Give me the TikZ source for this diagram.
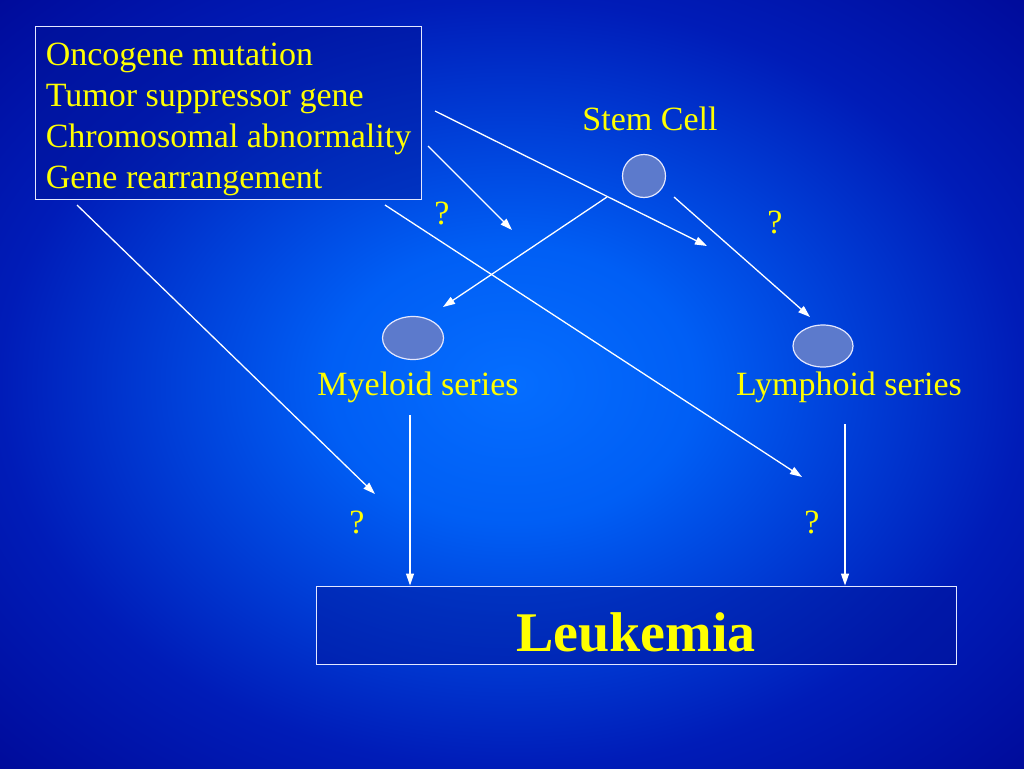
\documentclass[tikz,border=0pt]{standalone}
\usepackage{fontspec}
\setmainfont{Liberation Serif}
\usetikzlibrary{positioning,arrows.meta,shapes.geometric}

\definecolor{txtyellow}{RGB}{255,255,0}
\definecolor{cellfill}{RGB}{92,122,204}
\definecolor{edgewhite}{RGB}{228,232,255}
\definecolor{boxnavy}{RGB}{0,20,150}
\pgfdeclareradialshading{slidebg}{\pgfpoint{0bp}{0bp}}{%
  rgb(0bp)=(0.02,0.43,1); rgb(9bp)=(0,0.37,0.96); rgb(25bp)=(0,0.11,0.72);
  rgb(36bp)=(0,0.04,0.6); rgb(50bp)=(0,0.02,0.52)}

\begin{document}
\begin{tikzpicture}[
  x=1pt, y=-1pt,
  txt/.style={text=txtyellow, font=\fontsize{34}{41}\selectfont, inner sep=0pt},
  causebox/.style={rectangle, draw=edgewhite, line width=1pt, fill=boxnavy, fill opacity=0.45, text opacity=1,
    text=txtyellow, font=\fontsize{34}{41}\selectfont, align=left, inner ysep=0pt,
    minimum width=386pt, minimum height=173pt},
  leukbox/.style={rectangle, draw=edgewhite, line width=1pt, fill=boxnavy, fill opacity=0.45, text opacity=1,
    text=txtyellow, font=\fontsize{56}{60}\selectfont\bfseries, text height=53pt, text depth=0pt,
    minimum width=640pt, minimum height=78pt},
  cell/.style={ellipse, draw=edgewhite, line width=1.2pt, fill=cellfill, inner sep=0pt},
  arrow/.style={-{Triangle[length=12pt,width=8pt]}, draw=white, line width=1.3pt}
  ]
  % background
  \useasboundingbox (0,0) rectangle (1024,768);
  \shade[shading=slidebg] (0,0) rectangle (1024,768);

  % causes and cells
  \node[causebox, anchor=north west] (causes) at (35,26)
    {\rule{0pt}{36pt}Oncogene mutation\\Tumor suppressor gene\\Chromosomal abnormality\\Gene rearrangement};
  \node[cell, minimum width=43pt, minimum height=43pt] (stem) at (644,176) {};
  \node[txt] (stemlbl) at (650,119) {Stem Cell};
  \node[cell, minimum width=61pt, minimum height=43pt] (myeloid) at (413,338) {};
  \node[cell, minimum width=60pt, minimum height=42pt] (lymphoid) at (823,346) {};
  \node[txt] (myelbl) at (418,387) {Myeloid series};
  \node[txt] (lymlbl) at (849,387) {Lymphoid series};
  \node[leukbox] (leuk) at (636,625) {Leukemia};

  % question marks
  \node[txt] (q1) at (442,213) {?};
  \node[txt] (q2) at (775,222) {?};
  \node[txt] (q3) at (357,522) {?};
  \node[txt] (q4) at (812,522) {?};

  % free ends of the connectors
  \coordinate (c1s) at (435,111);  \coordinate (c1e) at (707,246);
  \coordinate (c2s) at (428,146);  \coordinate (c2e) at (512,230);
  \coordinate (c3s) at (385,205);  \coordinate (c3e) at (802,477);
  \coordinate (c4s) at (77,205);   \coordinate (c4e) at (375,494);
  \coordinate (stemL) at (607,197); \coordinate (myTop) at (443,307);
  \coordinate (stemR) at (674,197); \coordinate (lyTop) at (810,317);
  \coordinate (myDown) at (410,415);
  \coordinate (lyDown) at (845,424);

  % connectors
  \draw[arrow] (c1s) -- (c1e);
  \draw[arrow] (c2s) -- (c2e);
  \draw[arrow] (c3s) -- (c3e);
  \draw[arrow] (c4s) -- (c4e);
  \draw[arrow] (stemL) -- (myTop);
  \draw[arrow] (stemR) -- (lyTop);
  \draw[arrow] (myDown) -- (myDown |- leuk.north);
  \draw[arrow] (lyDown) -- (lyDown |- leuk.north);
\end{tikzpicture}
\end{document}
